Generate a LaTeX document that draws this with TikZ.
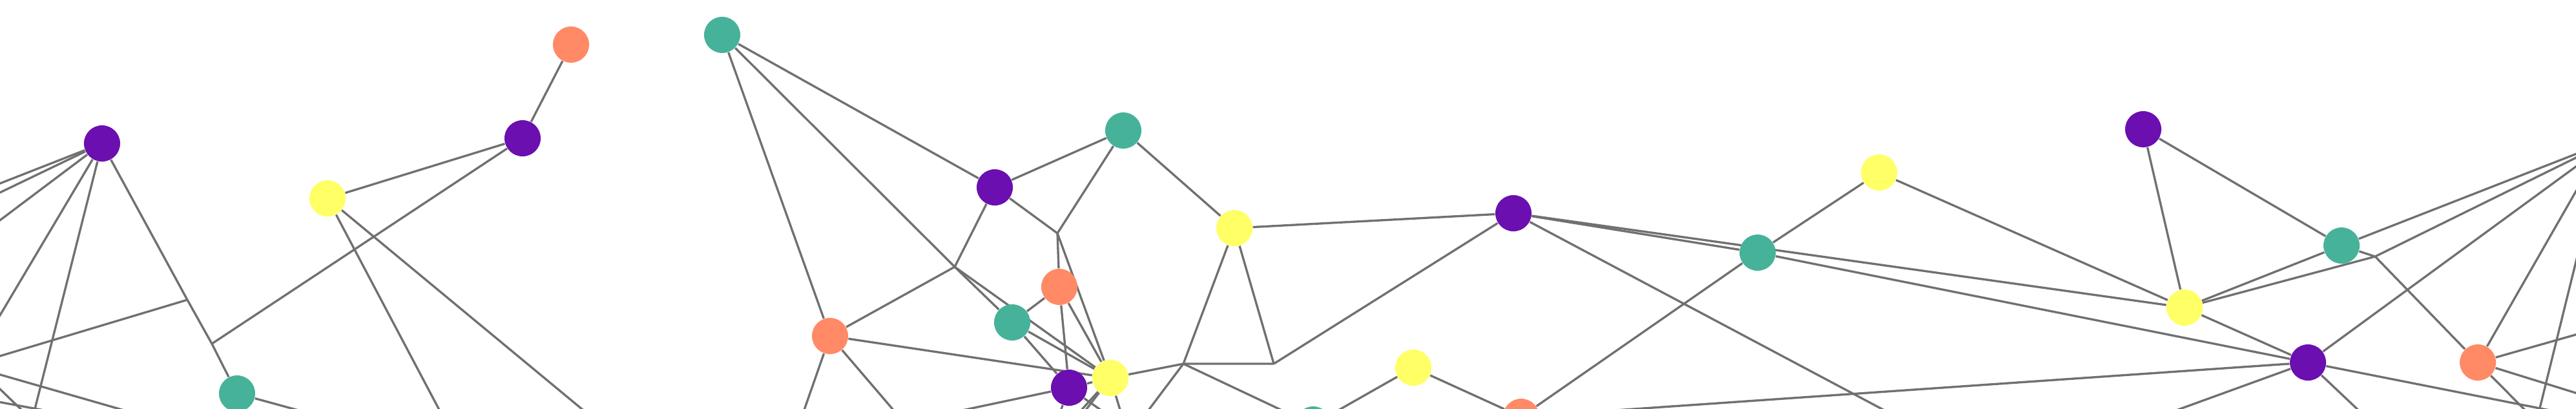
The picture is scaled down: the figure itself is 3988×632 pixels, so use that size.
\documentclass[tikz,border=0pt]{standalone}
\usepackage{tikz}
\usetikzlibrary{backgrounds}
\definecolor{vpurple}{HTML}{6B0FB0}
\definecolor{vteal}{HTML}{46B29A}
\definecolor{vorange}{HTML}{FF8A65}
\definecolor{vyellow}{HTML}{FFFF66}
\definecolor{linkgrey}{HTML}{707070}
\tikzset{
    vertex/.style={circle, inner sep=0pt, minimum size=0.56cm, draw=none},
    purplevertex/.style={vertex, fill=vpurple},
    tealvertex/.style={vertex, fill=vteal},
    orangevertex/.style={vertex, fill=vorange},
    yellowvertex/.style={vertex, fill=vyellow},
    link/.style={draw=linkgrey, line width=0.95pt},
}

\begin{document}
\begin{tikzpicture}[x=0.01cm, y=-0.01cm]
	\useasboundingbox (0,0) rectangle (3988,632);
	\clip (0,0) rectangle (3988,632);
	% vertices
	\node[purplevertex] (pu1) at (158,222) {};
	\node[yellowvertex] (ye1) at (507,307) {};
	\node[tealvertex] (te1) at (367,609) {};
	\node[orangevertex] (or1) at (884,69) {};
	\node[purplevertex] (pu2) at (809,214) {};
	\node[tealvertex] (te2) at (1118,54) {};
	\node[purplevertex] (pu3) at (1540,290) {};
	\node[tealvertex] (te3) at (1739,202) {};
	\node[yellowvertex] (ye2) at (1911,353) {};
	\node[orangevertex] (or2) at (1640,444) {};
	\node[tealvertex] (te4) at (1567,499) {};
	\node[orangevertex] (or3) at (1285,520) {};
	\node[yellowvertex] (ye3) at (1719,585) {};
	\node[purplevertex] (pu4) at (1655,600) {};
	\node[purplevertex] (pu5) at (2343,330) {};
	\node[tealvertex] (te5) at (2721,391) {};
	\node[yellowvertex] (ye4) at (2909,267) {};
	\node[yellowvertex] (ye5) at (2188,569) {};
	\node[tealvertex] (te6) at (2033,657) {};
	\node[orangevertex] (or4) at (2355,645) {};
	\node[purplevertex] (pu6) at (3318,200) {};
	\node[tealvertex] (te7) at (3625,380) {};
	\node[yellowvertex] (ye6) at (3382,476) {};
	\node[purplevertex] (pu7) at (3573,561) {};
	\node[orangevertex] (or5) at (3836,561) {};
	% junctions
	\coordinate (j1) at (290,464);
	\coordinate (j2) at (328,532);
	\coordinate (j3) at (1478,413);
	\coordinate (j4) at (1637,361);
	\coordinate (j5) at (1832,563);
	\coordinate (j6) at (1972,563);
	\coordinate (j7) at (3677,397);
	% ends outside the frame
	\coordinate (o1) at (-100,323);
	\coordinate (o2) at (-100,346);
	\coordinate (o3) at (-100,416);
	\coordinate (o4) at (-50,572);
	\coordinate (o5) at (37,700);
	\coordinate (o6) at (-100,581);
	\coordinate (o7) at (-100,551);
	\coordinate (o8) at (300,666);
	\coordinate (o9) at (-50,554);
	\coordinate (o10) at (60,660);
	\coordinate (o11) at (-100,604);
	\coordinate (o12) at (150,650);
	\coordinate (o13) at (550,659);
	\coordinate (o14) at (960,682);
	\coordinate (o15) at (700,672);
	\coordinate (o16) at (1229,680);
	\coordinate (o17) at (1422,680);
	\coordinate (o18) at (1400,654);
	\coordinate (o19) at (1626,680);
	\coordinate (o20) at (1769,680);
	\coordinate (o21) at (1633,680);
	\coordinate (o22) at (1646,680);
	\coordinate (o23) at (1748,680);
	\coordinate (o24) at (1744,680);
	\coordinate (o25) at (2080,680);
	\coordinate (o26) at (3002,680);
	\coordinate (o27) at (4045,216);
	\coordinate (o28) at (4040,205);
	\coordinate (o29) at (4036,210);
	\coordinate (o30) at (3920,680);
	\coordinate (o31) at (4100,486);
	\coordinate (o32) at (4100,643);
	\coordinate (o33) at (3954,680);
	\coordinate (o34) at (3245,680);
	\coordinate (o35) at (3699,680);
	\coordinate (o36) at (4074,660);
	% links
	\begin{scope}[on background layer]
	\clip (0,0) rectangle (3988,632);
	\draw[link] (pu1)--(o1);
	\draw[link] (pu1)--(o2);
	\draw[link] (pu1)--(o3);
	\draw[link] (pu1)--(o4);
	\draw[link] (pu1)--(o5);
	\draw[link] (pu1)--(j1)--(j2)--(te1);
	\draw[link] (j1)--(o6);
	\draw[link] (o7)--(o8);
	\draw[link] (o9)--(o10);
	\draw[link] (o11)--(o12);
	\draw[link] (te1)--(o13);
	\draw[link] (ye1)--(pu2);
	\draw[link] (pu2)--(or1);
	\draw[link] (pu2)--(j2);
	\draw[link] (ye1)--(o14);
	\draw[link] (ye1)--(o15);
	\draw[link] (te2)--(pu3);
	\draw[link] (te2)--(j3);
	\draw[link] (te2)--(or3);
	\draw[link] (j3)--(te4);
	\draw[link] (j3)--(pu3);
	\draw[link] (j3)--(or3);
	\draw[link] (j3)--(ye3);
	\draw[link] (pu3)--(te3);
	\draw[link] (pu3)--(j4);
	\draw[link] (te3)--(j4);
	\draw[link] (j4)--(or2);
	\draw[link] (j4)--(ye3);
	\draw[link] (te3)--(ye2);
	\draw[link] (or2)--(te4);
	\draw[link] (or2)--(pu4);
	\draw[link] (or2)--(ye3);
	\draw[link] (te4)--(ye3);
	\draw[link] (te4)--(pu4);
	\draw[link] (pu4)--(ye3);
	\draw[link] (or3)--(ye3);
	\draw[link] (or3)--(o16);
	\draw[link] (or3)--(o17);
	\draw[link] (pu4)--(o18);
	\draw[link] (pu4)--(o19);
	\draw[link] (pu4)--(o20);
	\draw[link] (ye3)--(o21);
	\draw[link] (ye3)--(o22);
	\draw[link] (ye3)--(o23);
	\draw[link] (ye3)--(j5)--(j6);
	\draw[link] (ye2)--(j5);
	\draw[link] (ye2)--(j6);
	\draw[link] (j5)--(o24);
	\draw[link] (j5)--(o25);
	\draw[link] (j6)--(pu5);
	\draw[link] (ye2)--(pu5);
	\draw[link] (ye5)--(te6);
	\draw[link] (ye5)--(or4);
	\draw[link] (pu5)--(te5);
	\draw[link] (pu5)--(ye6);
	\draw[link] (pu5)--(o26);
	\draw[link] (te5)--(ye4);
	\draw[link] (te5)--(or4);
	\draw[link] (te5)--(pu7);
	\draw[link] (or4)--(pu7);
	\draw[link] (ye4)--(ye6);
	\draw[link] (pu6)--(ye6);
	\draw[link] (pu6)--(te7);
	\draw[link] (ye6)--(te7);
	\draw[link] (ye6)--(j7);
	\draw[link] (ye6)--(pu7);
	\draw[link] (te7)--(j7);
	\draw[link] (j7)--(or5);
	\draw[link] (j7)--(o27);
	\draw[link] (te7)--(o27);
	\draw[link] (pu7)--(o27);
	\draw[link] (or5)--(o28);
	\draw[link] (o29)--(o30);
	\draw[link] (or5)--(o31);
	\draw[link] (or5)--(o32);
	\draw[link] (or5)--(o33);
	\draw[link] (pu7)--(o34);
	\draw[link] (pu7)--(o35);
	\draw[link] (pu7)--(o36);
	\end{scope}
\end{tikzpicture}
\end{document}
